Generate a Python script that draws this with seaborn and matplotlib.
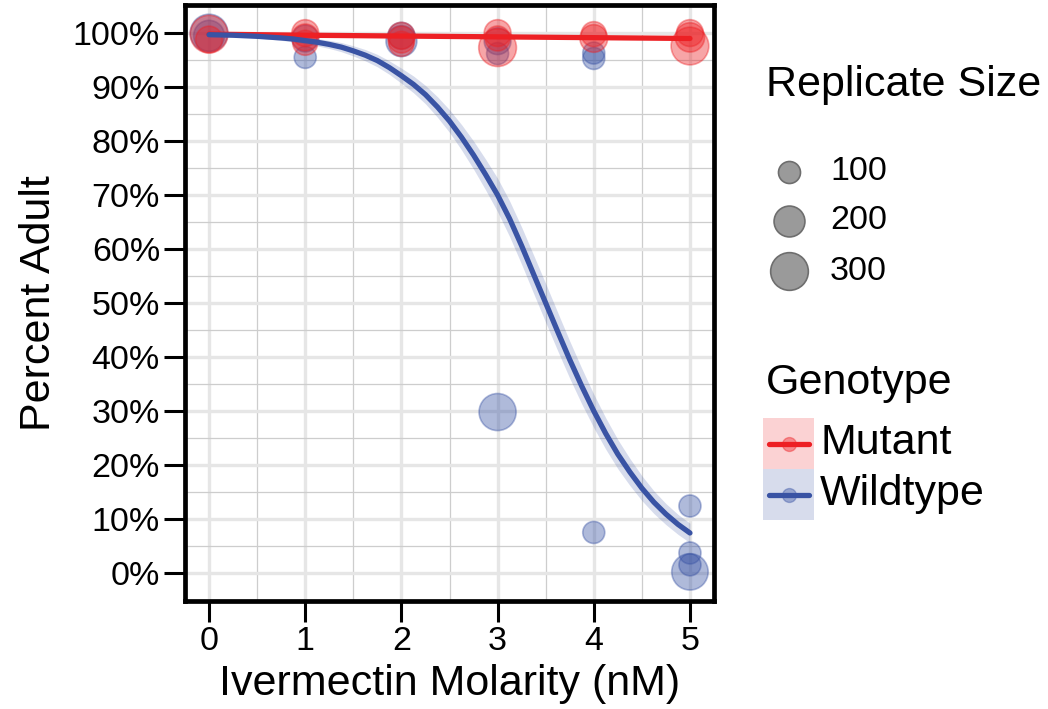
import numpy as np
import pandas as pd
import matplotlib
matplotlib.use("Agg")
import matplotlib.pyplot as plt
import seaborn as sns
from matplotlib.ticker import PercentFormatter, MultipleLocator
from matplotlib.lines import Line2D
from matplotlib.patches import Rectangle

# replicate data (dose in nM, percent adult, worms per replicate)
wt_dose = [0, 0, 1, 1, 2, 2, 3, 3, 3, 4, 4, 4, 5, 5, 5, 5]
wt_pct = [100.0, 99.5, 99.0, 95.5, 99.5, 98.5, 98.5, 96.2, 29.8, 96.3, 95.3, 7.5, 12.4, 3.7, 1.5, 0.2]
wt_size = [300, 200, 150, 50, 150, 200, 150, 100, 290, 50, 50, 100, 100, 80, 90, 280]

mut_dose = [0, 0, 1, 1, 1, 2, 2, 2, 3, 3, 3, 4, 4, 5, 5, 5]
mut_pct = [99.8, 98.8, 100.0, 99.2, 98.2, 99.5, 98.8, 98.0, 100.0, 99.0, 97.3, 99.8, 99.0, 100.0, 99.2, 97.6]
mut_size = [300, 150, 150, 150, 130, 150, 150, 130, 150, 130, 300, 130, 160, 150, 180, 300]

# fitted binomial curves, every 0.125 nM
wt_fit_dose = [i * 0.125 for i in range(41)]
wt_fit = [99.7, 99.65, 99.6, 99.5, 99.4, 99.25, 99.1, 98.9, 98.6, 98.3,
          97.9, 97.4, 96.7, 95.9, 94.9, 93.6, 92.1, 90.5, 88.6, 86.3,
          83.7, 80.7, 77.4, 73.8, 70.0, 65.6, 60.6, 55.3, 50.0, 44.7,
          39.5, 34.6, 30.0, 25.8, 22.0, 18.7, 15.7, 13.1, 10.9, 9.0, 7.4]
wt_ci = [0.15, 0.18, 0.22, 0.26, 0.3, 0.38, 0.45, 0.52, 0.6, 0.68,
         0.75, 0.85, 0.95, 1.05, 1.15, 1.25, 1.4, 1.55, 1.7, 1.9,
         2.1, 2.35, 2.6, 2.85, 3.1, 3.3, 3.45, 3.55, 3.6, 3.55,
         3.45, 3.3, 3.1, 2.9, 2.7, 2.5, 2.3, 2.1, 1.95, 1.85, 1.8]
mut_fit_dose = [0, 1, 2, 3, 4, 5]
mut_fit = [99.8, 99.6, 99.45, 99.3, 99.15, 99.0]
mut_ci = [0.15, 0.1, 0.1, 0.1, 0.15, 0.2]

genotypes = ["Mutant", "Wildtype"]
red = "#ED2024"
blue = "#3953A4"
pal = {"Mutant": red, "Wildtype": blue}
legend_sizes = [100, 200, 300]

pts = pd.DataFrame({
    "dose": wt_dose + mut_dose,
    "pct": wt_pct + mut_pct,
    "n": wt_size + mut_size,
    "genotype": ["Wildtype"] * len(wt_dose) + ["Mutant"] * len(mut_dose),
})

sns.set_style("white")
plt.rcParams["font.family"] = ["Liberation Sans", "DejaVu Sans"]
for k in ["text.color", "axes.labelcolor", "xtick.color", "ytick.color"]:
    plt.rcParams[k] = "black"

W, H = 1048, 709
fig, ax = plt.subplots(figsize=(W / 100, H / 100), dpi=100)
fig.subplots_adjust(left=185 / W, right=714 / W, bottom=1 - 601 / H, top=1 - 5 / H)

size_range = (251, 736)
size_norm = (100, 300)

sns.scatterplot(data=pts, x="dose", y="pct", hue="genotype", size="n",
                sizes=size_range, size_norm=size_norm, palette=pal,
                alpha=0.4, edgecolor="face", linewidth=1.2, legend=False,
                ax=ax, zorder=2)

# smooth fits with ribbons
ax.fill_between(mut_fit_dose, np.array(mut_fit) - mut_ci, np.array(mut_fit) + mut_ci,
                color=red, alpha=0.2, lw=0, zorder=3)
sns.lineplot(x=mut_fit_dose, y=mut_fit, color=red, linewidth=3.8, ax=ax, zorder=3)
ax.fill_between(wt_fit_dose, np.array(wt_fit) - wt_ci, np.array(wt_fit) + wt_ci,
                color=blue, alpha=0.2, lw=0, zorder=4)
sns.lineplot(x=wt_fit_dose, y=wt_fit, color=blue, linewidth=3.8, ax=ax, zorder=4)

ax.set_xlim(-0.25, 5.25)
ax.set_ylim(-5.2, 105.2)
ax.xaxis.set_major_locator(MultipleLocator(1))
ax.xaxis.set_minor_locator(MultipleLocator(0.5))
ax.yaxis.set_major_locator(MultipleLocator(10))
ax.yaxis.set_minor_locator(MultipleLocator(5))
ax.yaxis.set_major_formatter(PercentFormatter(decimals=0))
ax.set_axisbelow(True)
ax.grid(which="major", color="#e6e6e6", lw=2.4)
ax.grid(which="minor", color="#cdcdcd", lw=0.9)
ax.tick_params(which="major", bottom=True, left=True, length=15, width=2.2,
               color="black", labelsize=24.5, pad=3, direction="out")
ax.tick_params(which="minor", length=0)
for s in ax.spines.values():
    s.set_linewidth(3.4)
    s.set_color("black")

ax.set_xlabel("Ivermectin Molarity (nM)", fontsize=31, labelpad=5)
ax.set_ylabel("Percent Adult", fontsize=31, labelpad=10)


def fx(px):
    return px / W


def fy(py):
    return 1 - py / H


# size legend
fig.text(fx(766), fy(85), "Replicate Size", fontsize=31, ha="left", va="center")
for v, py in zip(legend_sizes, [172, 221, 271]):
    s = size_range[0] + (v - size_norm[0]) / (size_norm[1] - size_norm[0]) * (size_range[1] - size_range[0])
    fig.add_artist(Line2D([fx(789)], [fy(py)], marker="o", markersize=np.sqrt(s),
                          markerfacecolor="#9a9a9a", markeredgecolor="#6e6e6e",
                          markeredgewidth=1.2, linestyle="none"))
    fig.text(fx(830), fy(py), str(v), fontsize=24.5, ha="left", va="center")

# genotype legend
fig.text(fx(766), fy(383), "Genotype", fontsize=31, ha="left", va="center")
for g, top in zip(genotypes, [418, 469]):
    c = pal[g]
    fig.add_artist(Rectangle((fx(763), fy(top + 51)), 51 / W, 51 / H,
                             facecolor=c, alpha=0.2, edgecolor="none"))
    mid = top + 25.5
    fig.add_artist(Line2D([fx(769), fx(809)], [fy(mid), fy(mid)], color=c, lw=3.8))
    fig.add_artist(Line2D([fx(789)], [fy(mid)], marker="o", markersize=10,
                          color=c, alpha=0.4, linestyle="none"))
    fig.text(fx(820), fy(mid), g, fontsize=31, ha="left", va="center")

fig.savefig("out.png", dpi=100)
